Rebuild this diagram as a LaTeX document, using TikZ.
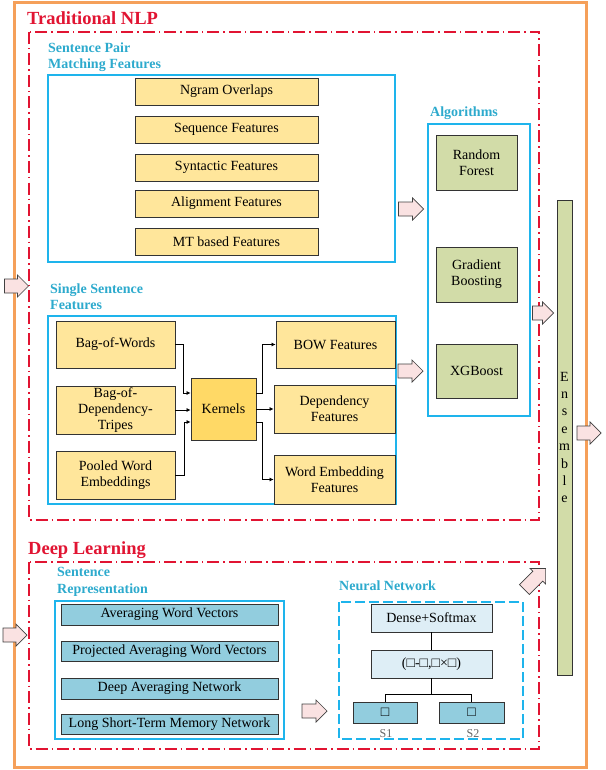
\documentclass[tikz,border=0pt]{standalone}
\usepackage{fontspec}
\setmainfont{Liberation Serif}
\usetikzlibrary{arrows.meta,positioning,calc}
\definecolor{frameorange}{RGB}{245,160,90}
\definecolor{nlpred}{RGB}{225,20,50}
\definecolor{headcyan}{RGB}{45,170,205}
\definecolor{boxcyan}{RGB}{30,180,236}
\definecolor{featyellow}{RGB}{255,230,155}
\definecolor{kernyellow}{RGB}{255,217,102}
\definecolor{algogreen}{RGB}{210,220,168}
\definecolor{repblue}{RGB}{146,205,222}
\definecolor{netblue}{RGB}{222,238,246}
\definecolor{blkpink}{RGB}{250,226,226}
\tikzset{pics/blkarrow/.style={code={
  \draw[draw=black!75,line width=0.7pt,fill=blkpink,line join=miter]
    (-#1,-7) -- ({#1-11},-7) -- ({#1-11},-11) -- (#1,0) -- ({#1-11},11) -- ({#1-11},7) -- (-#1,7) -- cycle;}}}
\begin{document}
\begin{tikzpicture}[x=1pt,y=-1pt,>=Latex,font=\fontsize{14}{16}\selectfont,
  box/.style={draw=black!80,line width=0.8pt,align=center,inner sep=1pt,minimum width=#1},
  yel/.style={box=#1,fill=featyellow},
  grn/.style={box=#1,fill=algogreen},
  blu/.style={box=#1,fill=repblue},
  lblu/.style={box=#1,fill=netblue},
  redframe/.style={draw=nlpred,line width=1.3pt,dash pattern=on 12pt off 4pt on 1.5pt off 4pt},
  cyanframe/.style={draw=boxcyan,line width=1.4pt},
  redhead/.style={anchor=base west,inner sep=0,text=nlpred,font=\fontsize{18.5}{20}\selectfont\bfseries},
  cyanhead/.style={anchor=north west,inner sep=0,align=left,text=headcyan,font=\fontsize{14}{16.5}\selectfont\bfseries},
  arr/.style={->,line width=0.7pt,>={Latex[length=4pt,width=4pt]}}]
\useasboundingbox (0,0) rectangle (605,770);

% frames
\draw[frameorange,line width=3pt] (14,3) rectangle (586,767);
\draw[redframe] (29,32) rectangle (539,520);
\draw[redframe] (29,562) rectangle (539,749);
\node[redhead] (tnlp) at (27,25) {Traditional NLP};
\node[redhead] (dl) at (28,554) {Deep Learning};

% sentence pair matching features
\draw[cyanframe] (48,75) rectangle (395,262);
\node[cyanhead] (spmfh) at (48,42.5) {Sentence Pair\\Matching Features};
\node[yel=183pt,minimum height=27pt] (ngram) at (226.5,91.5) {Ngram Overlaps};
\node[yel=183pt,minimum height=27pt] (seqf) at (226.5,129.5) {Sequence Features};
\node[yel=183pt,minimum height=27pt] (synf) at (226.5,167.5) {Syntactic Features};
\node[yel=183pt,minimum height=27pt] (alif) at (226.5,203.5) {Alignment Features};
\node[yel=183pt,minimum height=27pt] (mtf) at (226.5,241.5) {MT based Features};

% single sentence features
\draw[cyanframe] (48,316) rectangle (396,504);
\node[cyanhead] (ssfh) at (50,283.5) {Single Sentence\\Features};
\node[yel=119pt,minimum height=47pt] (bow) at (115.5,344.5) {Bag-of-Words};
\node[yel=119pt,minimum height=48pt] (bodt) at (115.5,410) {Bag-of-\\Dependency-\\Tripes};
\node[yel=119pt,minimum height=48pt] (pwe) at (115.5,475) {Pooled Word\\Embeddings};
\node[box=65pt,minimum height=62pt,fill=kernyellow] (kern) at (223.5,409) {Kernels};
\node[yel=119pt,minimum height=47pt] (bowf) at (335.5,344.5) {BOW Features};
\node[yel=121pt,minimum height=48pt] (depf) at (334.5,409) {Dependency\\Features};
\node[yel=121pt,minimum height=49pt] (wef) at (334.5,479.5) {Word Embedding\\Features};
\draw[arr] (bow.east) -- ++(8,0) |- ($(kern.west)+(0,-16)$);
\draw[arr] (bodt.east) -- (bodt.east -| kern.west);
\draw[arr] (pwe.east) -- ++(9,0) |- ($(kern.west)+(0,13)$);
\draw[arr] ($(kern.east)+(0,-16)$) -- ++(6,0) |- (bowf.west);
\draw[arr] (kern.east) -- (depf.west);
\draw[arr] ($(kern.east)+(0,13)$) -- ++(6,0) |- (wef.west);

% algorithms
\draw[cyanframe] (428,124) rectangle (530,416);
\node[cyanhead] (algh) at (430,106.5) {Algorithms};
\node[grn=81pt,minimum height=55pt] (rf) at (476.5,162.5) {Random\\Forest};
\node[grn=81pt,minimum height=55pt] (gb) at (476.5,274.5) {Gradient\\Boosting};
\node[grn=81pt,minimum height=54pt] (xgb) at (476.5,371) {XGBoost};
\node[grn=15pt,minimum height=475pt,inner sep=0,font=\fontsize{14}{17.4}\selectfont] (ens) at (564.5,437.5) {E\\n\\s\\e\\m\\b\\l\\e};

% sentence representation
\draw[cyanframe] (55,601) rectangle (284,739);
\node[cyanhead] (srh) at (57,567.5) {Sentence\\Representation};
\node[blu=217pt,minimum height=21pt] (awv) at (169.5,614.5) {Averaging Word Vectors};
\node[blu=217pt,minimum height=20pt] (pawv) at (169.5,651) {Projected Averaging Word Vectors};
\node[blu=217pt,minimum height=21pt] (dan) at (169.5,688.5) {Deep Averaging Network};
\node[blu=217pt,minimum height=20pt] (lstm) at (169.5,724) {Long Short-Term Memory Network};

% neural network
\draw[boxcyan,line width=1.4pt,dash pattern=on 10pt off 4pt] (339,602) rectangle (523,739);
\node[cyanhead] (nnh) at (339,581) {Neural Network};
\node[lblu=121pt,minimum height=28pt] (dense) at (431.5,618) {Dense+Softmax};
\node[lblu=121pt,minimum height=28pt] (comb) at (431.5,664) {(□-□,□×□)};
\node[blu=64pt,minimum height=21pt] (s1) at (385,712.5) {□};
\node[blu=65pt,minimum height=21pt] (s2) at (471.5,712.5) {□};
\node[text=black!60,inner sep=0,font=\fontsize{12}{14}\selectfont] (s1l) at (386,734) {S1};
\node[text=black!60,inner sep=0,font=\fontsize{12}{14}\selectfont] (s2l) at (473,734) {S2};
\draw[line width=0.7pt] (dense) -- (comb);
\draw[line width=0.7pt] (comb.south) -- ++(0,16) coordinate (split);
\draw[line width=0.7pt] (s1.north) |- (split) -| (s2.north);

% block arrows
\pic at (16.5,286) {blkarrow=12};
\pic at (411,209) {blkarrow=12.5};
\pic at (410.5,371) {blkarrow=12.5};
\pic at (543,313) {blkarrow=10.5};
\pic at (589,433) {blkarrow=12};
\pic at (15,635) {blkarrow=12};
\pic at (314.5,711) {blkarrow=12.5};
\pic[rotate=45] at (535,579) {blkarrow=15};
\end{tikzpicture}
\end{document}
